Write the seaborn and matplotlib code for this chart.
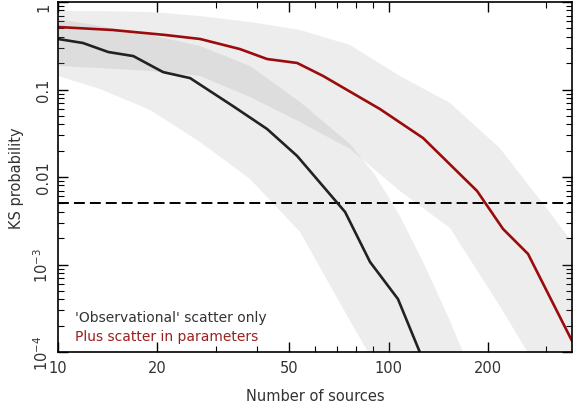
import numpy as np
import pandas as pd
import matplotlib
matplotlib.use("Agg")
import matplotlib.pyplot as plt
import seaborn as sns
from matplotlib.ticker import FixedLocator, NullFormatter

# ---- data ----
obs_n = [10, 11.9, 14.2, 16.9, 20.8, 25.1, 33.8, 42.9, 52.9, 73.9, 87.9, 106.8, 125.0]
obs_p = [0.378, 0.340, 0.268, 0.241, 0.158, 0.135, 0.0648, 0.0354, 0.0174, 0.00398, 0.00107, 0.000403, 0.000095]

par_n = [10, 14.6, 21.1, 26.9, 35.5, 42.9, 52.9, 63.4, 94.2, 127.2, 185.3, 222.0, 264.3, 359.0]
par_p = [0.518, 0.479, 0.420, 0.378, 0.290, 0.223, 0.201, 0.1427, 0.0598, 0.0279, 0.00692, 0.00255, 0.00132, 0.000134]

obs_band_n = [10, 13.4, 19.0, 26.9, 38.1, 54.0, 76.5, 91.0, 108.3, 129.0, 153.5, 176.5]
obs_band_hi = [0.639, 0.532, 0.420, 0.314, 0.1856, 0.0720, 0.0238, 0.01054, 0.00358, 0.000961, 0.000226, 0.000064]
obs_band_lo = [0.1427, 0.1013, 0.0583, 0.0251, 0.00948, 0.00235, 0.000226, 0.000073, 0.00001, 0.00001, 0.00001, 0.00001]

par_band_n = [10, 13.4, 19.0, 26.9, 38.1, 54.0, 76.5, 108.3, 153.5, 217.0, 307.0, 359.0]
par_band_hi = [0.789, 0.789, 0.769, 0.692, 0.591, 0.479, 0.3226, 0.1427, 0.0701, 0.02145, 0.00398, 0.00181]
par_band_lo = [0.1856, 0.176, 0.1627, 0.1427, 0.0821, 0.0425, 0.0209, 0.00692, 0.00261, 0.000336, 0.000038, 0.00001]

threshold = 0.005
x_ticks = [10, 20, 50, 100, 200]
x_ticklabels = ["10", "20", "50", "100", "200"]
y_ticks = [1e-4, 1e-3, 0.01, 0.1, 1]
y_ticklabels = [r"$10^{-4}$", r"$10^{-3}$", "0.01", "0.1", "1"]
label_obs = "'Observational' scatter only"
label_par = "Plus scatter in parameters"

# ---- plot ----
sns.set_style("ticks")
plt.rcParams['font.family'] = ['DejaVu Sans']
plt.rcParams['mathtext.default'] = 'regular'

fig = plt.figure(figsize=(5.82, 4.10), dpi=100)
ax = fig.add_axes([58/582, 1-353/410, 514/582, 350/410])

ax.set_xscale("log")
ax.set_yscale("log")

ax.fill_between(obs_band_n, obs_band_lo, obs_band_hi, color="#808080", alpha=0.14, linewidth=0)
ax.fill_between(par_band_n, par_band_lo, par_band_hi, color="#808080", alpha=0.14, linewidth=0)

ax.axhline(threshold, color="black", linewidth=1.4, dashes=(5.6, 2.6))

df_obs = pd.DataFrame({"n": obs_n, "p": obs_p})
df_par = pd.DataFrame({"n": par_n, "p": par_p})
sns.lineplot(data=df_obs, x="n", y="p", ax=ax, color="#222222", linewidth=1.9)
sns.lineplot(data=df_par, x="n", y="p", ax=ax, color="#9b0b0b", linewidth=1.9)

ax.set_xlim(10, 359)
ax.set_ylim(1e-4, 1)

ax.xaxis.set_major_locator(FixedLocator(x_ticks))
ax.set_xticklabels(x_ticklabels)
minor_x = [v * d for d in (10, 100) for v in range(2, 10)]
minor_x = [v for v in minor_x if v not in x_ticks and v < 359]
ax.xaxis.set_minor_locator(FixedLocator(minor_x))
ax.xaxis.set_minor_formatter(NullFormatter())

ax.yaxis.set_major_locator(FixedLocator(y_ticks))
ax.set_yticklabels(y_ticklabels, rotation=90, va="center")
ax.yaxis.set_minor_formatter(NullFormatter())
ylabels = ax.get_yticklabels()
ylabels[-1].set_va("top")

ax.tick_params(which="both", direction="in", top=True, right=True, colors="black",
               labelcolor="#333333", labelsize=10.5)
ax.tick_params(which="major", length=7, width=1.0)
ax.tick_params(which="minor", length=4, width=0.8)
ax.tick_params(axis="x", pad=6)
ax.tick_params(axis="y", pad=5)

for s in ax.spines.values():
    s.set_linewidth(1.2)
    s.set_color("black")

ax.set_xlabel("Number of sources", fontsize=10.5, color="#333333", labelpad=9)
ax.set_ylabel("KS probability", fontsize=10.5, color="#333333", labelpad=6)

ax.text(0.033, 0.10, label_obs, transform=ax.transAxes, fontsize=10,
        color="#333333", va="center", ha="left")
ax.text(0.033, 0.047, label_par, transform=ax.transAxes, fontsize=10,
        color="#9b2020", va="center", ha="left")

fig.savefig("out.png", dpi=100)
